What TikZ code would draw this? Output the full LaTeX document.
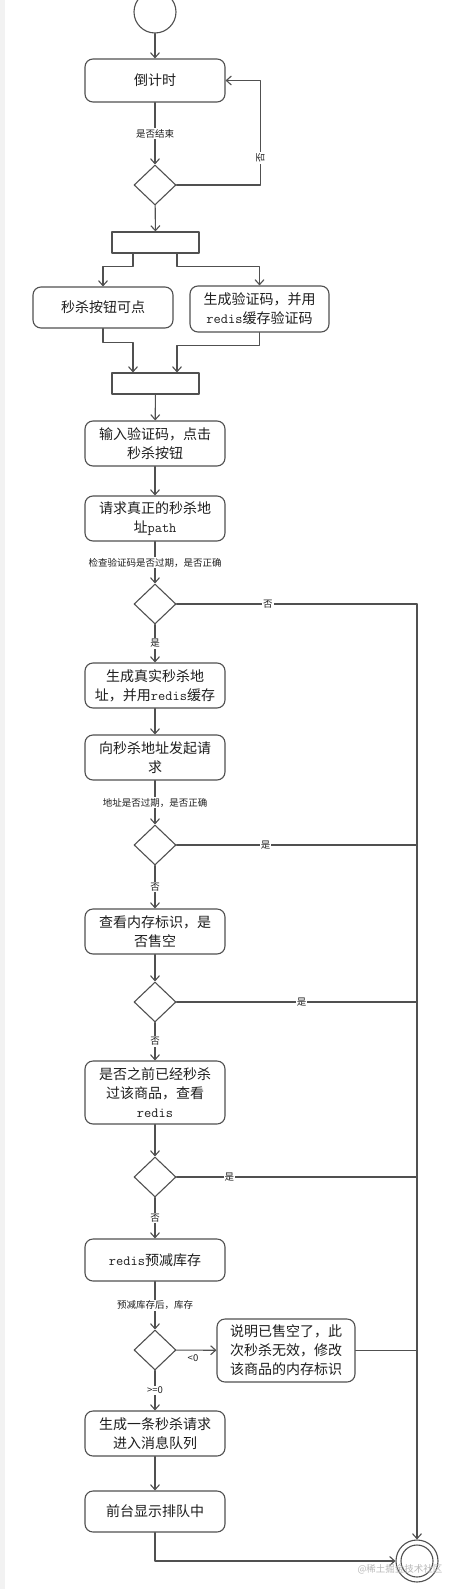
\documentclass[tikz,border=0pt]{standalone}
\usepackage{fontspec}
\setmainfont{Noto Sans CJK SC}
\usetikzlibrary{shapes.geometric,arrows.meta}

\definecolor{flowline}{RGB}{80,80,80}
\definecolor{flowtext}{RGB}{30,30,30}

\begin{document}
\begin{tikzpicture}[x=1pt,y=-1pt,line cap=round,line join=round,
        flow/.style={draw=flowline,line width=1.1pt},
        arr/.style={flow,-{Straight Barb[length=5pt,width=9pt]}},
        act/.style={draw=flowline,line width=1.1pt,rounded corners=8pt,
            minimum width=140pt,minimum height=45pt,inner sep=2pt,align=center,
            text=flowtext,font=\fontsize{14}{19}\selectfont},
        choice/.style={diamond,draw=flowline,line width=1.1pt,
            minimum width=42pt,minimum height=40pt,inner sep=0pt},
        bar/.style={draw=flowline,line width=1.1pt,minimum width=87pt,
            minimum height=21pt,inner sep=0pt},
        lbl/.style={fill=white,inner sep=1pt,text=flowtext,
            font=\fontsize{9.5}{11}\selectfont}]
        \useasboundingbox (0,0) rectangle (456,1589);
        \fill[white] (0,0) rectangle (456,1589);
        \fill[black!5] (0,0) rectangle (5,1589);

        \node[circle,draw=flowline,line width=1.1pt,minimum size=42pt,inner sep=0pt] (start) at (155,12) {};
        \node[act,minimum height=43pt] (countdown) at (155,80.5) {倒计时};
        \node[choice] (d1) at (155,185) {};
        \node[bar] (fork) at (155.5,242.5) {};
        \node[act,minimum height=41pt] (btn) at (103,307.5) {秒杀按钮可点};
        \node[act,minimum width=139pt,minimum height=46pt] (code) at (259.5,309)
            {生成验证码，并用\\\texttt{redis}缓存验证码};
        \node[bar] (join) at (155.5,383.5) {};
        \node[act] (input) at (155,443.5) {输入验证码，点击\\秒杀按钮};
        \node[act] (path) at (155,518.5) {请求真正的秒杀地\\址\texttt{path}};
        \node[choice] (d2) at (155,604) {};
        \node[act] (real) at (155,685.5) {生成真实秒杀地\\址，并用\texttt{redis}缓存};
        \node[act] (send) at (155,757.5) {向秒杀地址发起请\\求};
        \node[choice] (d3) at (155,845) {};
        \node[act] (mark) at (155,931.5) {查看内存标识，是\\否售空};
        \node[choice] (d4) at (155,1002) {};
        \node[act,minimum height=63pt] (dup) at (155,1092.5)
            {是否之前已经秒杀\\过该商品，查看\\\texttt{redis}};
        \node[choice] (d5) at (155,1177) {};
        \node[act,minimum height=42pt] (decr) at (155,1260) {\texttt{redis}预减库存};
        \node[choice] (d6) at (155,1350) {};
        \node[act,minimum width=138pt,minimum height=63pt] (soldout) at (286,1350.5)
            {说明已售空了，此\\次秒杀无效，修改\\该商品的内存标识};
        \node[act] (queue) at (155,1433.5) {生成一条秒杀请求\\进入消息队列};
        \node[act,minimum height=41pt] (show) at (155,1511.5) {前台显示排队中};
        \node[circle,draw=flowline,line width=1.1pt,minimum size=42pt,inner sep=0pt] (end) at (417,1561) {};
        \draw[flow] (end.center) circle[radius=16];
        \coordinate (rail) at (417,604);

        \draw[arr] (start) -- (countdown);
        \draw[arr] (countdown) -- node[lbl] {是否结束} (d1);
        \draw[arr] (d1.east) -- ++(84,0) |- node[lbl,rotate=90,pos=0.13] {否} (countdown.east);
        \draw[arr] (d1) -- (fork);
        \draw[arr] ([xshift=-22.5pt]fork.south) -- ++(0,13) -| (btn.north);
        \draw[arr] ([xshift=21.5pt]fork.south) -- ++(0,13) -| (code.north);
        \draw[arr] (btn.south) -- ++(0,14) -| ([xshift=-22.5pt]join.north);
        \draw[arr] (code.south) -- ++(0,13) -| ([xshift=21.5pt]join.north);

        \foreach \a/\b in {join/input,input/path,real/send,mark/d4,dup/d5,queue/show}
            \draw[arr] (\a) -- (\b);
        \foreach \a/\b/\t in {path/d2/检查验证码是否过期，是否正确,d2/real/是,
                send/d3/地址是否过期，是否正确,d3/mark/否,d4/dup/否,d5/decr/否,
                decr/d6/预减库存后，库存,d6/queue/{>=0}}
            \draw[arr] (\a) -- node[lbl] {\t} (\b);

        \draw[arr] (rail) -- (end.north);
        \foreach \d/\t/\p in {d2/否/0.38,d3/是/0.37,d4/是/0.52,d5/是/0.22}
            \draw[flow] (\d.east) -- node[lbl,pos=\p] {\t} (\d.east -| rail);
        \draw[arr] (d6) -- (soldout);
        \node[lbl,fill=none] (less) at (193,1358) {<0};
        \draw[flow] (soldout.east) -- (soldout.east -| rail);
        \draw[arr] (show.south) |- (end.west);

        \node[text=black!28,font=\fontsize{9.5}{11}\selectfont] (watermark) at (400,1569) {@稀土掘金技术社区};
    \end{tikzpicture}
\end{document}
